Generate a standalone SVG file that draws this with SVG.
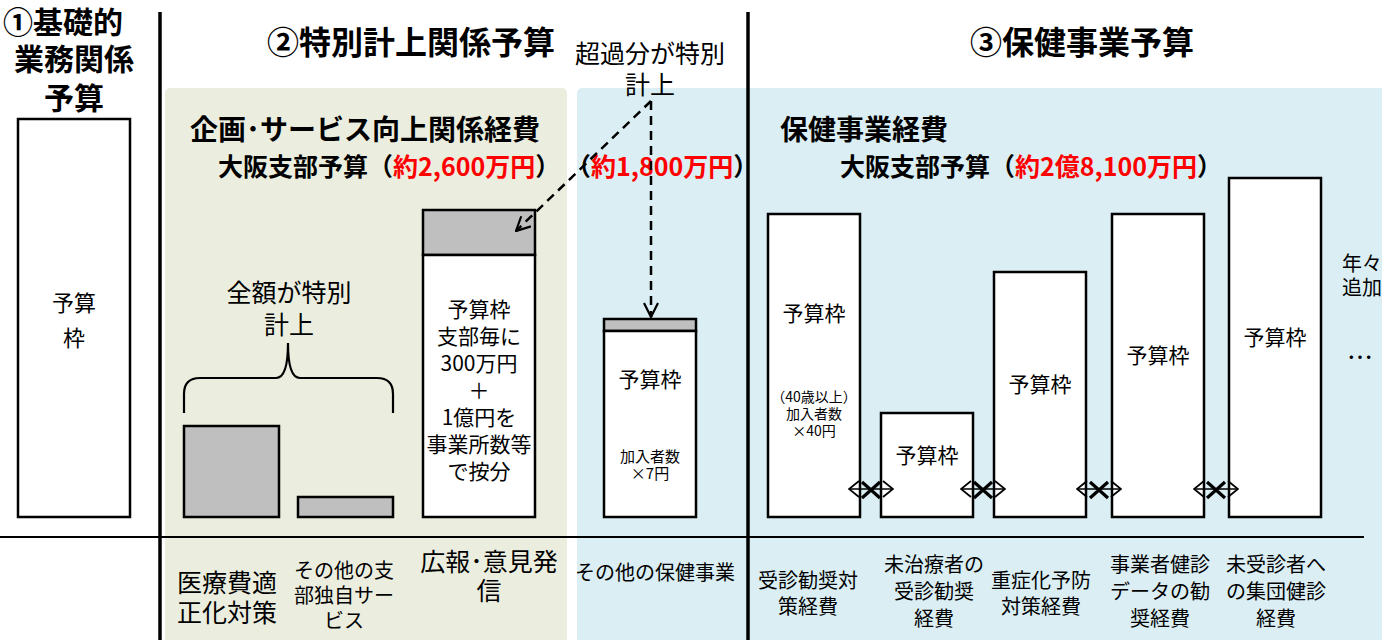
<svg xmlns="http://www.w3.org/2000/svg" width="1382" height="640" viewBox="0 0 1382 640">
<defs>
<style>
text{font-family:"Noto Sans CJK JP","Noto Sans CJK SC",sans-serif;fill:#000}
.h{font-weight:bold}
.sub{font-size:28px;font-weight:bold}
.bud{font-size:25px;font-weight:bold}
.red{fill:#FF0000}
.lbl{font-size:25px}
.bx{font-size:21px}
.sm{font-size:14px}
.bt{font-size:20px}
.box{fill:#FFFFFF;stroke:#000;stroke-width:2.5}
.gray{fill:#BFBFBF;stroke:#000;stroke-width:2.5}
.dash{fill:none;stroke:#000;stroke-width:2.5;stroke-dasharray:9 6}
.blk{fill:none;stroke:#000;stroke-width:1.6}
.x{fill:none;stroke:#000;stroke-width:3.2}
</style>
<marker id="arr" viewBox="0 0 16 16" refX="15" refY="8" markerWidth="16" markerHeight="16" markerUnits="userSpaceOnUse" orient="auto">
<path d="M1,1 L15,8 L1,15" fill="none" stroke="#000" stroke-width="2.2"/>
</marker>
<marker id="chev" viewBox="0 0 12 18" refX="11" refY="9" markerWidth="12" markerHeight="18" markerUnits="userSpaceOnUse" orient="auto-start-reverse">
<path d="M1,1 L11,9 L1,17" fill="none" stroke="#000" stroke-width="1.8"/>
</marker>
</defs>
<rect width="1382" height="640" fill="#FFFFFF"/>
<g id="panels">
<rect x="165" y="88" width="402" height="560" rx="5" fill="#EBEEDF"/>
<rect x="577" y="88" width="812" height="560" rx="5" fill="#DAEEF3"/>
</g>
<g id="dividers" stroke="#000">
<line x1="160" y1="12" x2="160" y2="640" stroke-width="3.5"/>
<line x1="748" y1="12" x2="748" y2="640" stroke-width="3.5"/>
<line x1="0" y1="537" x2="1364" y2="537" stroke-width="2"/>
</g>
<g id="headings">
<text class="h" style="font-size:30px"><tspan x="3" y="33">①基礎的</tspan><tspan x="74" y="70" text-anchor="middle">業務関係</tspan><tspan x="74" y="109" text-anchor="middle">予算</tspan></text>
<text class="h" x="411" y="54" text-anchor="middle" style="font-size:32px">②特別計上関係予算</text>
<text class="h" x="1082" y="54" text-anchor="middle" style="font-size:32px">③保健事業予算</text>
<text class="sub" x="190" y="140">企画･サービス向上関係経費</text>
<text class="sub" x="780" y="140">保健事業経費</text>
<text class="bud" x="218" y="176">大阪支部予算（<tspan class="red">約2,600万円</tspan>）</text>
<text class="bud" x="566" y="176">（<tspan class="red">約1,800万円</tspan>）</text>
<text class="bud" x="840" y="176">大阪支部予算（<tspan class="red">約2億8,100万円</tspan>）</text>
<text class="lbl" text-anchor="middle"><tspan x="650" y="63">超過分が特別</tspan><tspan x="650" y="94">計上</tspan></text>
</g>
<g id="node-kiso">
<rect class="box" x="18" y="119" width="112" height="398"/>
<text text-anchor="middle" style="font-size:22px"><tspan x="74" y="311">予算</tspan><tspan x="74" y="346">枠</tspan></text>
</g>
<g id="node-iryohi">
<rect class="gray" x="184" y="426" width="95" height="91"/>
</g>
<g id="node-sonota-shibu">
<rect class="gray" x="298" y="497" width="95" height="20"/>
</g>
<g id="brace">
<path d="M184,413 L184,394 Q184,378 200,378 L276,378 Q288,378 288,343 Q288,378 300,378 L377,378 Q393,378 393,394 L393,413" fill="none" stroke="#000" stroke-width="2.2"/>
<text class="lbl" text-anchor="middle"><tspan x="289" y="302">全額が特別</tspan><tspan x="289" y="334">計上</tspan></text>
</g>
<g id="node-koho">
<rect class="gray" x="423" y="210" width="112" height="45"/>
<rect class="box" x="423" y="255" width="112" height="262"/>
<text class="bx" text-anchor="middle"><tspan x="479" y="317">予算枠</tspan><tspan x="479" y="344">支部毎に</tspan><tspan x="479" y="371">300万円</tspan><tspan x="479" y="398">＋</tspan><tspan x="479" y="425">1億円を</tspan><tspan x="479" y="452">事業所数等</tspan><tspan x="479" y="479">で按分</tspan></text>
</g>
<g id="node-sonota-hoken">
<rect class="gray" x="604" y="319" width="92" height="12"/>
<rect class="box" x="604" y="331" width="92" height="186"/>
<text class="bx" x="650" y="387" text-anchor="middle">予算枠</text>
<text text-anchor="middle" style="font-size:15px"><tspan x="650" y="462">加入者数</tspan><tspan x="650" y="479">×7円</tspan></text>
</g>
<g id="node-jushin">
<rect class="box" x="768" y="214" width="92" height="303"/>
<text class="bx" x="814" y="321" text-anchor="middle">予算枠</text>
<text class="sm" text-anchor="middle"><tspan x="814" y="402">（40歳以上）</tspan><tspan x="814" y="419">加入者数</tspan><tspan x="814" y="436">×40円</tspan></text>
</g>
<g id="node-michiryo">
<rect class="box" x="881" y="413" width="92" height="104"/>
<text class="bx" x="927" y="463" text-anchor="middle">予算枠</text>
</g>
<g id="node-jushoka">
<rect class="box" x="994" y="272" width="92" height="245"/>
<text class="bx" x="1040" y="392" text-anchor="middle">予算枠</text>
</g>
<g id="node-jigyosha">
<rect class="box" x="1112" y="214" width="92" height="303"/>
<text class="bx" x="1158" y="363" text-anchor="middle">予算枠</text>
</g>
<g id="node-mijushin">
<rect class="box" x="1229" y="178" width="92" height="339"/>
<text class="bx" x="1275" y="345" text-anchor="middle">予算枠</text>
</g>
<g id="node-more">
<text style="font-size:20px"><tspan x="1342" y="271">年々</tspan><tspan x="1342" y="295">追加</tspan></text>
<text x="1347" y="367" style="font-size:26px">…</text>
</g>
<g id="connectors">
<line class="dash" x1="651" y1="101" x2="516" y2="231" marker-end="url(#arr)"/>
<line class="dash" x1="651" y1="101" x2="651" y2="317" marker-end="url(#arr)"/>
<g id="blocked-1">
<line class="blk" x1="849" y1="489" x2="893" y2="489" marker-start="url(#chev)" marker-end="url(#chev)"/>
<path class="x" d="M862,482 L880,498 M862,498 L880,482"/>
</g>
<g id="blocked-2">
<line class="blk" x1="961" y1="489" x2="1005" y2="489" marker-start="url(#chev)" marker-end="url(#chev)"/>
<path class="x" d="M974,482 L992,498 M974,498 L992,482"/>
</g>
<g id="blocked-3">
<line class="blk" x1="1077" y1="489" x2="1121" y2="489" marker-start="url(#chev)" marker-end="url(#chev)"/>
<path class="x" d="M1090,482 L1108,498 M1090,498 L1108,482"/>
</g>
<g id="blocked-4">
<line class="blk" x1="1194" y1="489" x2="1238" y2="489" marker-start="url(#chev)" marker-end="url(#chev)"/>
<path class="x" d="M1207,482 L1225,498 M1207,498 L1225,482"/>
</g>
</g>
<g id="bottom-labels">
<text text-anchor="middle" style="font-size:25px"><tspan x="227" y="592">医療費適</tspan><tspan x="227" y="622">正化対策</tspan></text>
<text text-anchor="middle" style="font-size:20px"><tspan x="344" y="578">その他の支</tspan><tspan x="344" y="603">部独自サー</tspan><tspan x="344" y="628">ビス</tspan></text>
<text text-anchor="middle" style="font-size:25px"><tspan x="489" y="571">広報･意見発</tspan><tspan x="489" y="600">信</tspan></text>
<text x="655" y="580" text-anchor="middle" style="font-size:20px">その他の保健事業</text>
<text class="bt" text-anchor="middle"><tspan x="808" y="588">受診勧奨対</tspan><tspan x="808" y="614">策経費</tspan></text>
<text class="bt" text-anchor="middle"><tspan x="934" y="572">未治療者の</tspan><tspan x="934" y="599">受診勧奨</tspan><tspan x="934" y="626">経費</tspan></text>
<text class="bt" text-anchor="middle"><tspan x="1041" y="588">重症化予防</tspan><tspan x="1041" y="614">対策経費</tspan></text>
<text class="bt" text-anchor="middle"><tspan x="1160" y="572">事業者健診</tspan><tspan x="1160" y="599">データの勧</tspan><tspan x="1160" y="626">奨経費</tspan></text>
<text class="bt" text-anchor="middle"><tspan x="1276" y="572">未受診者へ</tspan><tspan x="1276" y="599">の集団健診</tspan><tspan x="1276" y="626">経費</tspan></text>
</g>
</svg>
